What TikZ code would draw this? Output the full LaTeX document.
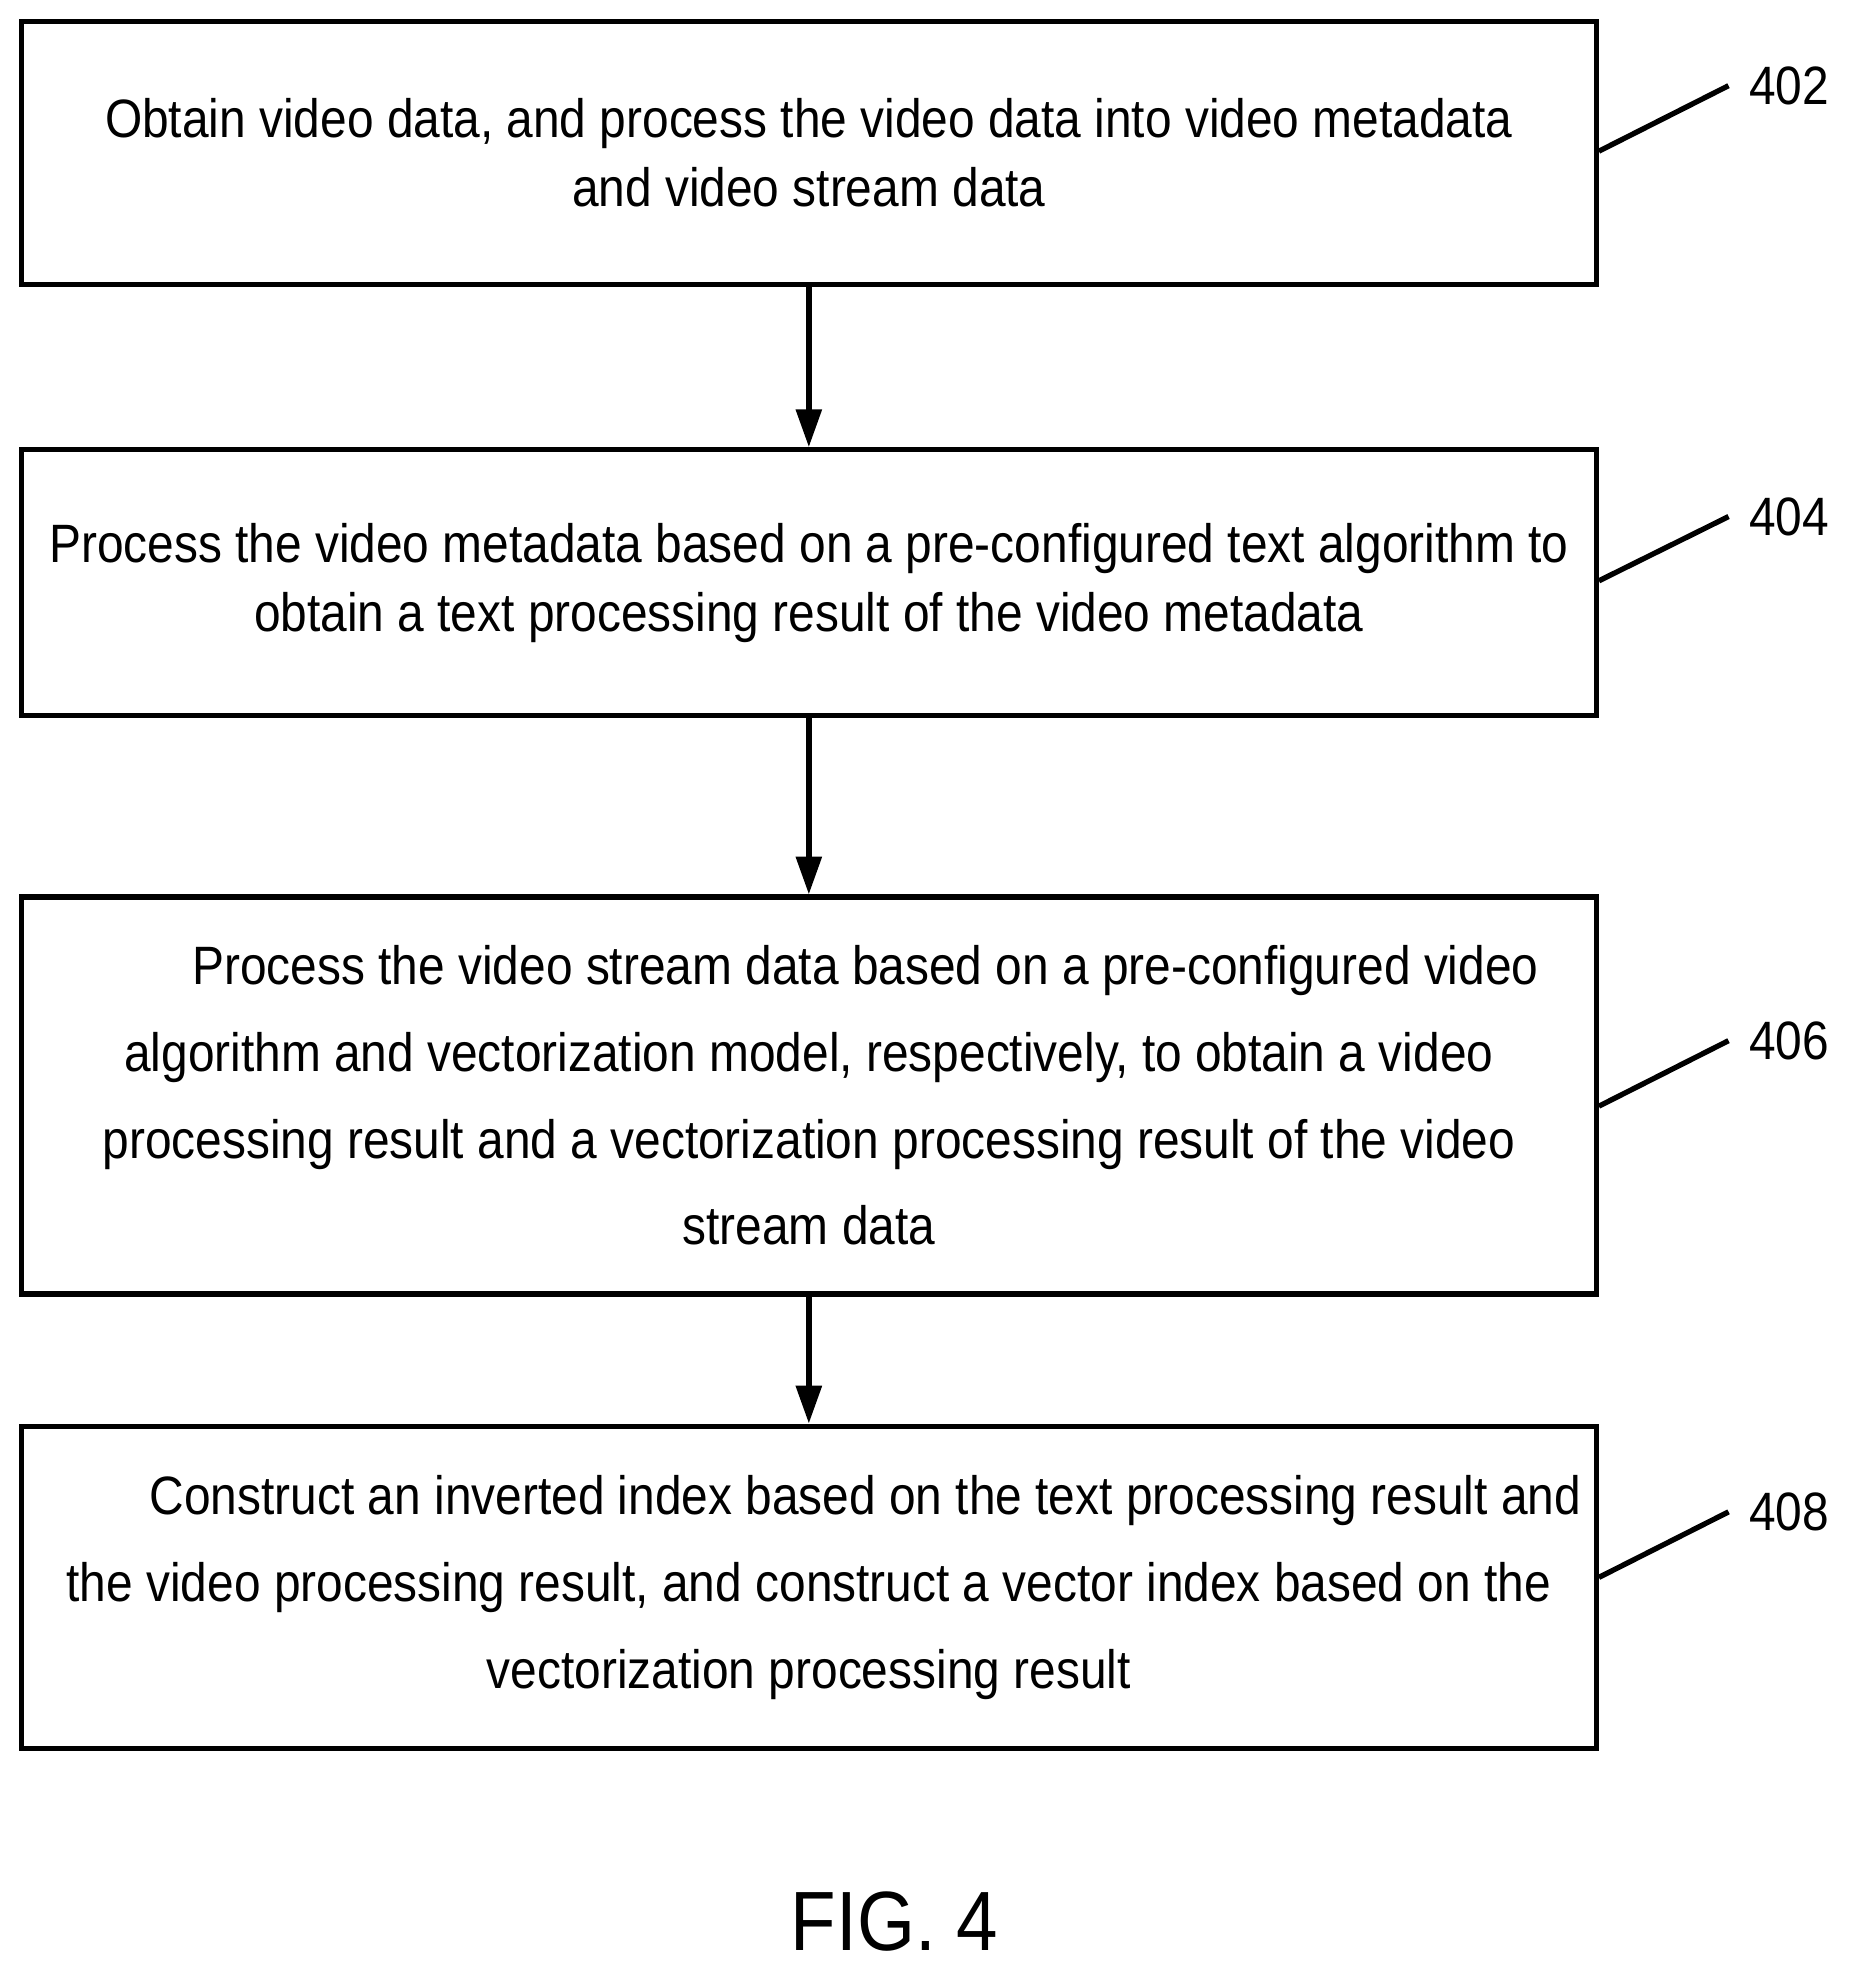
\documentclass[tikz,border=0pt]{standalone}
\usepackage{fontspec}
\setmainfont[FakeStretch=0.886]{Liberation Sans}
\usetikzlibrary{arrows.meta}
\tikzset{
  stepbox/.style={draw, line width=1.2pt, minimum width=12.5cm, align=center, inner sep=0pt, font=\fontsize{12.2pt}{15.6pt}\selectfont},
  tag/.style={font=\fontsize{12.2pt}{14pt}\selectfont},
  flow/.style={-{Triangle[length=0.3cm,width=0.2cm]}, line width=1.2pt},
  lead/.style={line width=1.2pt}
}
\begin{document}
\begin{tikzpicture}
  \useasboundingbox (0,0) rectangle (14.70,-15.70);
  % steps
  \node[stepbox, minimum height=2.09cm] (s402) at (6.42,-1.215) {Obtain video data, and process the video data into video metadata\\and video stream data};
  \node[stepbox, minimum height=2.11cm] (s404) at (6.42,-4.625) {Process the video metadata based on a pre-configured text algorithm to\\obtain a text processing result of the video metadata};
  \node[stepbox, minimum height=3.15cm, font=\fontsize{12.2pt}{19.6pt}\selectfont] (s406) at (6.42,-8.695) {\hspace*{0.9cm}Process the video stream data based on a pre-configured video\\algorithm and vectorization model, respectively, to obtain a video\\processing result and a vectorization processing result of the video\\stream data};
  \node[stepbox, minimum height=2.56cm, font=\fontsize{12.2pt}{19.6pt}\selectfont] (s408) at (6.42,-12.60) {\hspace*{0.9cm}Construct an inverted index based on the text processing result and\\the video processing result, and construct a vector index based on the\\vectorization processing result};
  % arrows
  \draw[flow] (s402) -- (s404);
  \draw[flow] (s404) -- (s406);
  \draw[flow] (s406) -- (s408);
  % reference numerals
  \node[tag] (t402) at (14.20,-0.68) {402};
  \node[tag] (t404) at (14.20,-4.10) {404};
  \node[tag] (t406) at (14.20,-8.26) {406};
  \node[tag] (t408) at (14.20,-12.00) {408};
  \draw[lead] (s402.east |- 0,-1.20) -- (13.72,-0.68);
  \draw[lead] (s404.east |- 0,-4.61) -- (13.72,-4.10);
  \draw[lead] (s406.east |- 0,-8.78) -- (13.72,-8.26);
  \draw[lead] (s408.east |- 0,-12.52) -- (13.72,-12.00);
  \node[font=\fontsize{19pt}{23pt}\selectfont] (fig) at (7.10,-15.25) {FIG. 4};
\end{tikzpicture}
\end{document}
